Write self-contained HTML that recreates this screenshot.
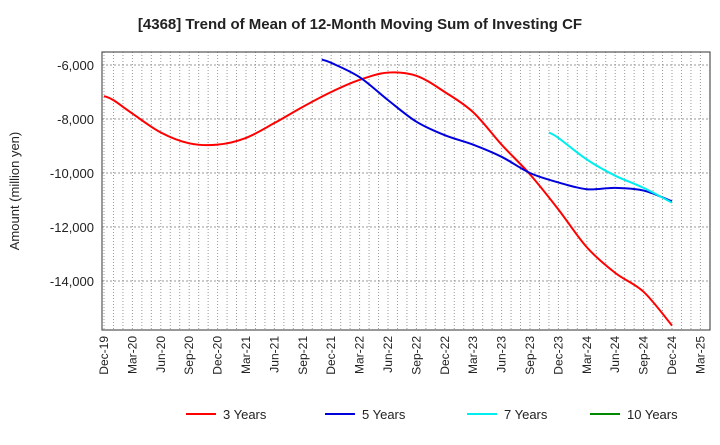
<!DOCTYPE html>
<html><head><meta charset="utf-8"><style>
body{margin:0;background:#fff;font-family:"Liberation Sans",sans-serif}
</style></head><body>
<svg id="c" width="720" height="440" xmlns="http://www.w3.org/2000/svg" font-family="Liberation Sans, sans-serif">
<text x="360" y="29" text-anchor="middle" font-size="15" font-weight="bold" fill="#222">[4368]  Trend of Mean of 12-Month Moving Sum of Investing CF</text>
<text transform="translate(19,191) rotate(-90)" text-anchor="middle" font-size="13" fill="#222">Amount (million yen)</text>
<g id="grid"></g><g id="axes"></g><g id="series"></g><g id="legend"></g>
</svg>
<script>
const xLabels=["Dec-19","Mar-20","Jun-20","Sep-20","Dec-20","Mar-21","Jun-21","Sep-21","Dec-21","Mar-22","Jun-22","Sep-22","Dec-22","Mar-23","Jun-23","Sep-23","Dec-23","Mar-24","Jun-24","Sep-24","Dec-24","Mar-25"];
const yTicks=[-6000,-8000,-10000,-12000,-14000];
const seriesNames=["3 Years","5 Years","7 Years","10 Years"];
const seriesColors=["#ff0000","#0000dd","#00eeee","#008800"];
// month index from Dec-19
const m3=[0,1,3,6,9,12,15,18,21,24,27,30,33,36,39,42,45,48,51,54,57,60];
const v3=[-7150,-7300,-7800,-8500,-8900,-8950,-8700,-8150,-7550,-7000,-6550,-6280,-6400,-7000,-7750,-8950,-10050,-11350,-12750,-13700,-14400,-15650];
const m5=[23,24,27,30,33,36,39,42,45,48,51,54,57,60];
const v5=[-5800,-5920,-6450,-7300,-8100,-8600,-8950,-9400,-10000,-10350,-10600,-10550,-10650,-11050];
const m7=[47,48,51,54,57,60];
const v7=[-8500,-8700,-9500,-10100,-10550,-11100];
const m10=[];const v10=[];
const L=102,R=710,T=52,B=330;
const X=m=>104+m*(28.4/3);
const Y=v=>65+(-6000-v)*27/1000;
const NS="http://www.w3.org/2000/svg";
function mk(t,a,p){const e=document.createElementNS(NS,t);for(const k in a)e.setAttribute(k,a[k]);p.appendChild(e);return e;}
const g=document.getElementById('grid'),ax=document.getElementById('axes'),s=document.getElementById('series'),lg=document.getElementById('legend');
for(let m=0;m<=64;m++){const x=X(m);if(x<=L||x>=R)continue;
const l=mk('line',{x1:x,x2:x,y1:T,y2:B,stroke:'#999','stroke-dasharray':'1,2','stroke-width':1},g);

}
yTicks.forEach(v=>{const y=Y(v);
const l=mk('line',{x1:L,x2:R,y1:y,y2:y,stroke:'#999','stroke-dasharray':'2,2'},g);


const t=mk('text',{x:L-8,y:y+5,'text-anchor':'end','font-size':13,fill:'#222'},ax);t.textContent=v.toLocaleString('en-US');

});
xLabels.forEach((lab,i)=>{const x=X(i*3);
const t=mk('text',{transform:`translate(${x+4},336) rotate(-90)`,'text-anchor':'end','font-size':12,fill:'#222'},ax);t.textContent=lab;

});
const fr=mk('rect',{x:L,y:T,width:R-L,height:B-T,fill:'none',stroke:'#555','stroke-width':1.2},ax);


function path(ms,vs){const p=ms.map((m,i)=>[X(m),Y(vs[i])]);if(!p.length)return'';let d=`M${p[0][0]},${p[0][1]}`;
for(let i=0;i<p.length-1;i++){const p0=p[i-1]||p[i],p1=p[i],p2=p[i+1],p3=p[i+2]||p2;
d+=` C${p1[0]+(p2[0]-p0[0])/6},${p1[1]+(p2[1]-p0[1])/6} ${p2[0]-(p3[0]-p1[0])/6},${p2[1]-(p3[1]-p1[1])/6} ${p2[0]},${p2[1]}`;}return d;}
[[m3,v3],[m5,v5],[m7,v7],[m10,v10]].forEach((sv,i)=>{if(!sv[0].length)return;
const p=mk('path',{d:path(sv[0],sv[1]),fill:'none',stroke:seriesColors[i],'stroke-width':2},s);

});
const lx=[186,325,467,590];
seriesNames.forEach((n,i)=>{
const l=mk('line',{x1:lx[i],x2:lx[i]+30,y1:414,y2:414,stroke:seriesColors[i],'stroke-width':2},lg);


const t=mk('text',{x:lx[i]+37,y:419,'font-size':13,fill:'#222'},lg);t.textContent=n;

});
</script>
</body></html>
